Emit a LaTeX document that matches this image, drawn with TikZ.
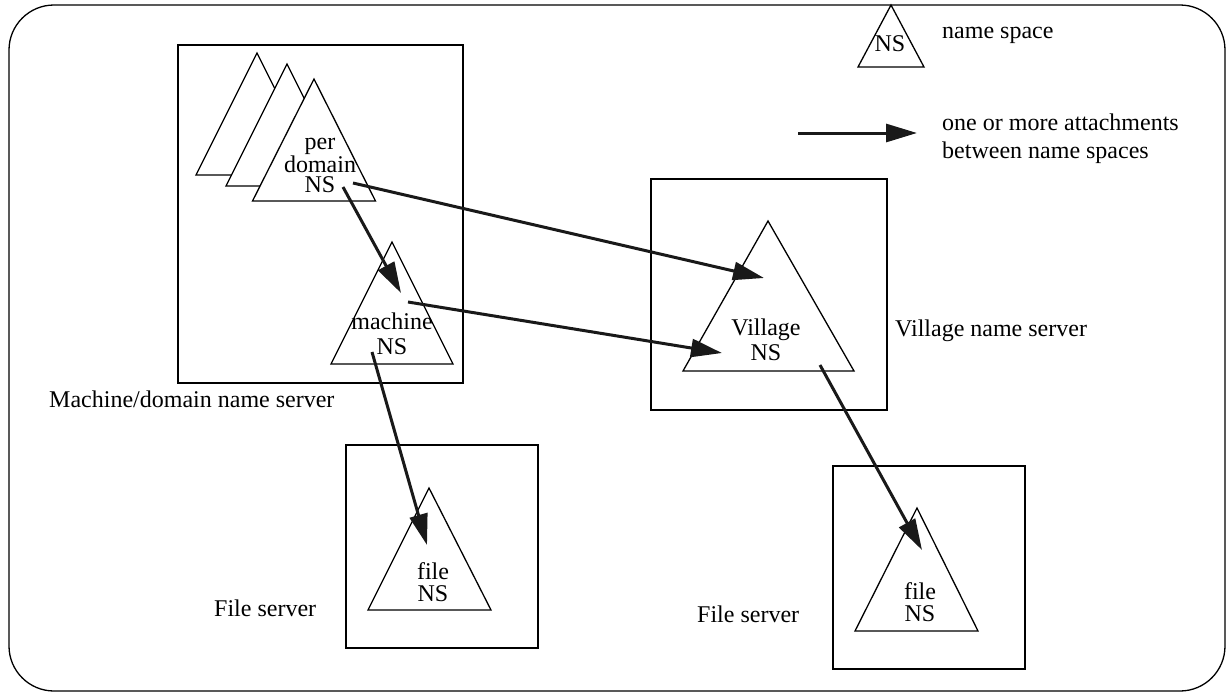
\documentclass[tikz,border=0pt]{standalone}
\usepackage{fontspec}
\setmainfont{Liberation Serif}
\usetikzlibrary{arrows.meta}
\begin{document}
\begin{tikzpicture}[x=1pt,y=-1pt,
  frame/.style={draw, line width=1.3pt, rounded corners=45pt},
  server/.style={draw, line width=1.3pt},
  nsshape/.style={draw, line width=1.3pt, fill=white, line join=miter},
  attach/.style={line width=3pt, draw=black!90,
    -{Triangle[length=31pt,width=18pt,fill=black!90]}},
  lbl/.style={font=\fontsize{24}{26}\selectfont, inner sep=0pt},
  nslbl/.style={lbl, align=center, anchor=south}]
\useasboundingbox (0,0) rectangle (1227,694);

% outer frame
\draw[frame] (9,5) rectangle (1225,691);

% machine/domain name server
\draw[server] (178,45) rectangle (463,383);
\draw[nsshape] (257,53) -- (318,175) -- (196,175) -- cycle;
\draw[nsshape] (287,64) -- (348,186) -- (226,186) -- cycle;
\draw[nsshape] (314,79) -- (375.5,201) -- (252.5,201) -- cycle;
\node[nslbl, font=\fontsize{24}{20.5}\selectfont] (pdns) at (320,193) {per\\domain\\NS};
\draw[nsshape] (392,242) -- (453,364) -- (331,364) -- cycle;
\node[nslbl, font=\fontsize{24}{25}\selectfont] (mns) at (392,355) {machine\\NS};
\node[lbl, anchor=base west] (mdlbl) at (49,407) {Machine/domain name server};

% village name server
\draw[server] (651,179) rectangle (887,410);
\draw[nsshape] (768,221) -- (854,371) -- (683,371) -- cycle;
\node[nslbl, font=\fontsize{24}{25}\selectfont] (vns) at (766,361) {Village\\NS};
\node[lbl, anchor=base west] (vlbl) at (895,336) {Village name server};

% file server (left)
\draw[server] (346,445) rectangle (538,648);
\draw[nsshape] (429,488) -- (491,610) -- (368,610) -- cycle;
\node[nslbl, font=\fontsize{24}{22}\selectfont] (fns1) at (433,602) {file\\NS};
\node[lbl, anchor=base west] (flbl1) at (214,616) {File server};

% file server (right)
\draw[server] (833,466) rectangle (1025,669);
\draw[nsshape] (917,508) -- (978,631) -- (855,631) -- cycle;
\node[nslbl, font=\fontsize{24}{22}\selectfont] (fns2) at (920,622) {file\\NS};
\node[lbl, anchor=base west] (flbl2) at (697,622) {File server};

% legend
\draw[nsshape] (891,5) -- (924,67) -- (858,67) -- cycle;
\node[nslbl] (legns) at (890,52) {NS};
\node[lbl, anchor=base west] (legname) at (942,38) {name space};
\coordinate (leg-from) at (798,133);
\coordinate (leg-to) at (917,133);
\draw[attach] (leg-from) -- (leg-to);
\node[lbl, anchor=base west] (legatt1) at (942,130) {one or more attachments};
\node[lbl, anchor=base west] (legatt2) at (942,158) {between name spaces};

% attachment end points
\coordinate (pd-out1) at (353,183);
\coordinate (pd-out2) at (343,187);
\coordinate (m-in) at (401,293);
\coordinate (m-out1) at (408,302);
\coordinate (m-out2) at (372,352);
\coordinate (v-in1) at (764,278);
\coordinate (v-in2) at (722,353);
\coordinate (v-out) at (820,365);
\coordinate (f1-in) at (427,545);
\coordinate (f2-in) at (922,550);

% attachments
\draw[attach] (pd-out1) -- (v-in1);
\draw[attach] (pd-out2) -- (m-in);
\draw[attach] (m-out1) -- (v-in2);
\draw[attach] (m-out2) -- (f1-in);
\draw[attach] (v-out) -- (f2-in);
\end{tikzpicture}
\end{document}
